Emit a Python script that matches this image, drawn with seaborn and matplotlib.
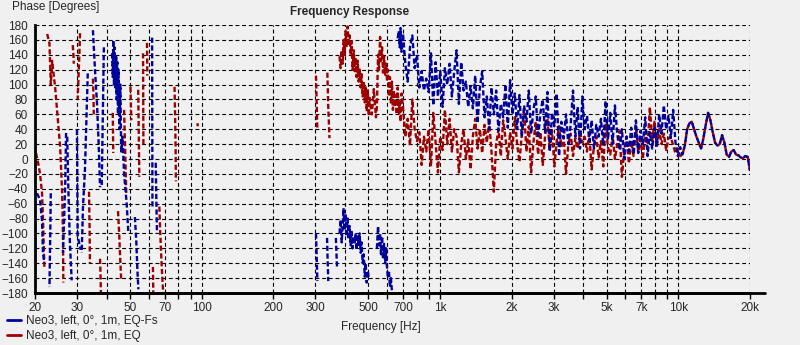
import numpy as np
import pandas as pd
import matplotlib
matplotlib.use("Agg")
import matplotlib.pyplot as plt
from matplotlib.lines import Line2D
from matplotlib.ticker import FixedLocator, NullFormatter
import seaborn as sns

sns.set_style("white")
plt.rcParams["font.family"] = ["Liberation Sans", "DejaVu Sans"]

LABEL_FS = "Neo3, left, 0°, 1m, EQ-Fs"
LABEL_EQ = "Neo3, left, 0°, 1m, EQ"
COLOR_FS = "#00009c"
COLOR_EQ = "#9c0000"

N = None  # break between wrapped phase strokes

# ---- EQ-Fs (blue) ----
fs_low_hz = [20.4, 21.0, 21.4, 21.6, 21.9, N,
             23.3, 23.2, 23.1, 23.0, N,
             27.0, 26.8, 26.5, 26.2, N,
             27.3, 27.6, 28.0, 28.5, N,
             30.0, 30.1, 30.2, 31.1, N,
             33.3, 32.4, 31.8, 31.4, N,
             35.0, 35.7, 36.4, 37.0, 37.5, N,
             38.9, 38.5, 38.1, N,
             42.1, 42.4, 42.6, 42.9, 43.1, 43.5, 43.8, 44.0, 44.3, 44.6, 44.8, 45.3,
             45.6, 46.0, 46.6, 47.3, 48.5, 49.3, N,
             52.5, 53.2, 53.8, 54.3, N,
             62.0, 62.1, 62.2, N,
             64.2, 64.6, 65.0]
fs_low_deg = [-46, -55, -82, -126, -140, N,
              -46, -90, -130, -172, N,
              35, -30, -80, -126, N,
              30, -40, -110, -163, N,
              39, -30, -104, -122, N,
              115, -15, -64, -126, N,
              173, 120, 75, 20, -38, N,
              150, 56, -38, N,
              142, 110, 160, 100, 150, 96, 140, 80, 130, 60, 120, 40,
              100, 10, 30, -20, -60, -100, N,
              -78, -110, -150, -175, N,
              163, 50, -64, N,
              -5, -55, -100]

fs_mid_hz = [302, 304, 306, N,
             336, 338, 340, N,
             366, 368, 370, N,
             379, 383, 387, 391, 394, 398, 402, 406, 410, 414, 418, 422, 426, 430, 435,
             439, 443, 447, 452, 456, 460, 465, 469, 474, 479, 484, 488, 493, 498, 503, N,
             544, 550, 555, 561, 566, 572, 577, 583, 589, 595, 600, 605, 611, 617, 623, 629, N,
             665, 672, 678, 684, 690]
fs_mid_deg = [-100, -130, -164, N,
              -106, -136, -164, N,
              -106, -126, -146, N,
              -100, -82, -112, -88, -66, -96, -74, -104, -80, -108, -90, -116, -96, -120, -104,
              -112, -100, -122, -104, -118, -100, -126, -112, -140, -128, -158, -140, -166, -150, -160, N,
              -120, -90, -116, -100, -128, -104, -134, -114, -140, -120, -146, -160, -150, -172, -160, -178, N,
              162, 172, 150, 176, 144]

fs_high_deg = [168, 128, 104, 150, 166, 122, 140, 96, 118, 92,
               108, 90, 142, 72, 130, 84, 118, 70, 122, 100,
               128, 84, 118, 146, 74, 130, 92, 104, 70, 98,
               68, 112, 48, 96, 118, 56, 84, 40, 96, 60,
               92, 38, 74, 56, 100, 42, 106, 60, 88, 40,
               86, 30, 72, 50, 92, 34, 66, 84, 28, 62,
               80, 36, 90, 10, 62, 44, 88, 4, 50, 28,
               60, 20, 46, 92, 30, 70, 14, 84, 40, 58,
               24, 52, 14, 46, 30, 54, 18, 78, 26, 62,
               20, 72, 34, 12, 40, 0, 30, 10, 42, 6,
               52, 8, 38, 20, 56, 4, 36, 14, 42, 18,
               60, 34, 72, 40, 58, 28, 66, 22, 4, 16,
               6, 18, 40, 48, 50, 40, 30, 22, 14, 28,
               46, 62, 52, 36, 22, 18, 20, 32, 22, 6,
               3, 10, 12, 6, 5, 2, 1, 4, 3, -16]

# ---- EQ (red) ----
eq_low_hz = [20.2, 20.6, 21.0, 21.4, 21.6, 21.8, 21.9, N,
             22.5, 23.0, 23.3, 23.6, 24.3, 24.8, 25.5, 26.0, 26.2, 26.3, N,
             28.8, 29.0, 29.1, N,
             30.9, 30.7, 30.5, 30.2, N,
             33.7, 33.9, 34.0, N,
             35.0, 35.2, 35.3, N,
             37.5, 37.7, 37.8, N,
             42.4, 42.5, 42.6, N,
             44.6, 45.1, 45.5, 46.0, N,
             47.3, 47.8, 48.3, N,
             50.3, 50.5, 50.7, N,
             54.2, 54.5, 54.8, N,
             56.8, 56.9, 57.0, N,
             59.0, 59.1, 59.2, N,
             62.5, 62.6, 62.7, N,
             66.5, 67.0, 67.6, 68.3, 69.0, N,
             77.0, 77.4, 77.8, 78.0, N,
             96.0, 96.5]
eq_low_deg = [8, -5, -20, -45, -80, -125, -146, N,
              168, 155, 100, 132, 96, 62, 16, -46, -100, -166, N,
              153, 140, 128, N,
              169, 140, 116, 80, N,
              -44, -95, -140, N,
              108, 84, 60, N,
              -134, -160, -180, N,
              62, 35, 8, N,
              -70, -100, -130, -163, N,
              66, 10, -46, N,
              97, 75, 52, N,
              93, 35, -24, N,
              142, 80, 20, N,
              156, 134, 112, N,
              -145, -162, -180, N,
              -64, -95, -125, -155, -180, N,
              97, 60, 15, -30, N,
              48, 44]

eq_mid_hz = [302, 304, 306, N,
             337, 340, 344, N,
             379, 383, 387, 391, 394, 398, 402, 406, 410, 414, 418, 422, 426, 430, 435,
             439, 443, 447, 452, 456, 460, 465, 469, 474, 479, 484, 488, 493, 498, 503,
             508, 518, 528, 539, 544, 550, 555, 561, 566, 572, 577, 583, 589, 595, 600,
             605, 611, 617, 623, 629, 635, 641, 647, 653, 659, 665, 672, 678, 684, 690]
eq_mid_deg = [112, 76, 40, N,
              116, 70, 28, N,
              138, 122, 146, 128, 160, 140, 172, 150, 178, 152, 166, 140, 158, 120, 146,
              118, 136, 110, 132, 104, 122, 96, 114, 84, 104, 76, 98, 64, 92, 58,
              82, 60, 94, 56, 70, 140, 120, 164, 132, 150, 116, 138, 112, 128, 104,
              120, 84, 110, 74, 104, 66, 92, 70, 86, 60, 96, 62, 78, 50, 88]

eq_high_deg = [70, 30, 54, 18, 80, 40, 24, 36, -8, 30,
               10, 40, -10, 62, 22, -18, 30, 12, 66, 20,
               54, 10, 40, 30, -18, 20, 40, 0, 26, -14,
               30, 54, 14, 40, 8, 46, 22, 50, 10, -44,
               20, 40, 4, 52, 28, 0, 36, 14, 56, 20,
               -4, 32, 66, 10, 44, -18, 22, 50, 6, 36,
               -8, 30, 54, 12, 38, -10, 24, 44, 16, 30,
               -20, 20, 34, 4, 28, 14, 36, 22, 30, 10,
               34, -14, 18, 30, 2, 24, -10, 48, 16, 6,
               32, 0, 20, 38, -24, 12, 30, -6, 24, 4,
               44, 10, 26, 0, 36, 14, 70, 24, 50, 16,
               40, 20, 34, 12, 28, 30, 18, 8, 14, 4,
               6, 18, 40, 48, 50, 40, 30, 22, 14, 28,
               46, 62, 52, 36, 22, 18, 20, 32, 22, 6,
               3, 10, 12, 6, 5, 2, 1, 4, 3, -16]

# log-spaced measurement grid above 700 Hz
high_hz = np.geomspace(700, 20000, len(fs_high_deg))

x_ticks = [20, 30, 50, 70, 100, 200, 300, 500, 700, 1000, 2000, 3000, 5000, 7000, 10000, 20000]
x_tick_labels = ["20", "30", "50", "70", "100", "200", "300", "500", "700",
                 "1k", "2k", "3k", "5k", "7k", "10k", "20k"]
y_ticks = list(range(-180, 181, 20))


def strokes(label, hz_parts, deg_parts):
    hz = np.concatenate([np.array(p, dtype=float) for p in hz_parts])
    deg = np.concatenate([np.array(p, dtype=float) for p in deg_parts])
    seg = np.cumsum(np.isnan(hz))
    keep = ~np.isnan(hz)
    return pd.DataFrame({"freq": hz[keep], "phase": deg[keep],
                         "series": label, "seg": [f"{label}-{s}" for s in seg[keep]]})


df = pd.concat([
    strokes(LABEL_EQ, [eq_low_hz, [N], eq_mid_hz, high_hz], [eq_low_deg, [N], eq_mid_deg, eq_high_deg]),
    strokes(LABEL_FS, [fs_low_hz, [N], fs_mid_hz, high_hz], [fs_low_deg, [N], fs_mid_deg, fs_high_deg]),
], ignore_index=True)

bg = "#f0f0f0"
fig = plt.figure(figsize=(8, 3.45), dpi=100, facecolor=bg)
ax = fig.add_axes([35 / 800, 1 - 293 / 345, 715 / 800, 268 / 345], facecolor=bg)

sns.lineplot(data=df, x="freq", y="phase", hue="series", units="seg", estimator=None,
             sort=False, hue_order=[LABEL_EQ, LABEL_FS],
             palette={LABEL_EQ: COLOR_EQ, LABEL_FS: COLOR_FS},
             linewidth=1.7, linestyle=(0, (2.2, 1.1)), legend=False, ax=ax)

ax.set_xscale("log")
ax.set_xlim(20, 20000)
ax.set_ylim(-180, 180)
ax.xaxis.set_major_locator(FixedLocator(x_ticks))
ax.set_xticklabels(x_tick_labels)
minor = [40, 60, 80, 90, 400, 600, 800, 900, 4000, 6000, 8000, 9000]
ax.xaxis.set_minor_locator(FixedLocator(minor))
ax.xaxis.set_minor_formatter(NullFormatter())
ax.set_yticks(y_ticks)
ax.set_xlabel("")
ax.set_ylabel("")

grid_kw = dict(color="black", linewidth=0.8, linestyle=(0, (3.5, 2.5)))
ax.grid(True, which="both", axis="x", **grid_kw)
ax.grid(True, which="major", axis="y", **grid_kw)
ax.set_axisbelow(True)

for side in ("top", "right"):
    ax.spines[side].set_visible(False)
for side in ("left", "bottom"):
    ax.spines[side].set_linewidth(2)
    ax.spines[side].set_color("black")
ax.plot([0, 1.021], [0, 0], transform=ax.transAxes, color="black", lw=2, clip_on=False)

ax.tick_params(axis="x", which="both", length=4, width=1, color="black", direction="out",
               pad=2.5, labelsize=8.5, bottom=True)
ax.tick_params(axis="y", length=0, pad=5, labelsize=8.5, left=True)

fig.text(350 / 800, 1 - 12 / 345, "Frequency Response", ha="center", va="center",
         fontsize=8.5, fontweight="bold")
fig.text(12 / 800, 1 - 7 / 345, "Phase [Degrees]", ha="left", va="center", fontsize=8.5)
fig.text(381 / 800, 1 - 327 / 345, "Frequency [Hz]", ha="center", va="center", fontsize=8.5)

handles = [Line2D([], [], color=COLOR_FS, lw=2), Line2D([], [], color=COLOR_EQ, lw=2)]
fig.legend(handles, [LABEL_FS, LABEL_EQ], loc="lower left", bbox_to_anchor=(0.0, -0.012),
           frameon=False, fontsize=8.5, handlelength=1.2, handletextpad=0.4,
           labelspacing=0.25, borderaxespad=0.2)

fig.savefig("out.png", dpi=100, facecolor=bg)
